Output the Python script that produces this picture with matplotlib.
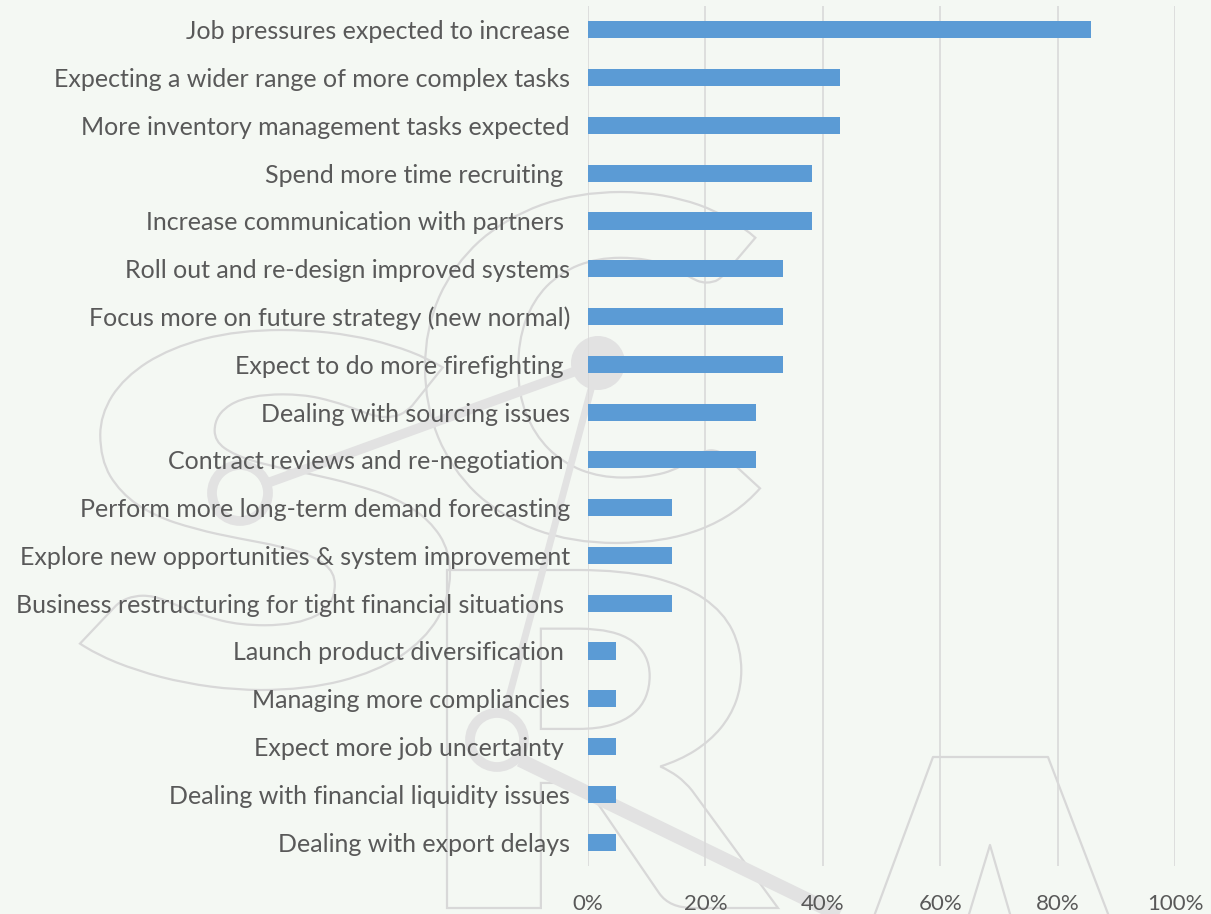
import matplotlib
matplotlib.use("Agg")
import matplotlib.pyplot as plt
from matplotlib.textpath import TextPath
from matplotlib.font_manager import FontProperties
from matplotlib.patches import PathPatch, Circle
from matplotlib.transforms import Affine2D
from matplotlib.ticker import FuncFormatter

# Survey responses: share of respondents (%)
categories = [
    "Job pressures expected to increase",
    "Expecting a wider range of more complex tasks",
    "More inventory management tasks expected",
    "Spend more time recruiting ",
    "Increase communication with partners ",
    "Roll out and re-design improved systems",
    "Focus more on future strategy (new normal)",
    "Expect to do more firefighting ",
    "Dealing with sourcing issues",
    "Contract reviews and re-negotiation ",
    "Perform more long-term demand forecasting",
    "Explore new opportunities & system improvement",
    "Business restructuring for tight financial situations ",
    "Launch product diversification ",
    "Managing more compliancies",
    "Expect more job uncertainty ",
    "Dealing with financial liquidity issues",
    "Dealing with export delays",
]
values = [85.7, 42.9, 42.9, 38.1, 38.1, 33.3, 33.3, 33.3, 28.6, 28.6,
          14.3, 14.3, 14.3, 4.8, 4.8, 4.8, 4.8, 4.8]
x_ticks = [0, 20, 40, 60, 80, 100]

W, H = 1211, 914
BG = "#f4f8f3"
BAR = "#5b9bd5"
TXT = "#595959"
GRID = "#d9d9d9"
MARK = "#d8d8d8"
MARK_FILL = "#e2e2e2"

plt.rcParams["font.family"] = ["Lato", "DejaVu Sans"]

fig = plt.figure(figsize=(W / 100, H / 100), dpi=100, facecolor=BG)

# ---- background logo layer (pixel coordinates, y pointing down) ----
bg = fig.add_axes([0, 0, 1, 1], zorder=0)
bg.set_xlim(0, W)
bg.set_ylim(H, 0)
bg.axis("off")
bg.set_facecolor("none")


def glyph(ch, x0, y0, x1, y1, weight="heavy"):
    fp = FontProperties(family=["Lato", "DejaVu Sans"], weight=weight)
    tp = TextPath((0, 0), ch, size=100, prop=fp)
    ext = tp.get_extents()
    tr = (Affine2D()
          .translate(-ext.x0, -ext.y0)
          .scale((x1 - x0) / ext.width, -(y1 - y0) / ext.height)
          .translate(x0, y1))
    p = tr.transform_path(tp)
    bg.add_patch(PathPatch(p, facecolor="none", edgecolor=MARK, lw=1.6))


glyph("S", 80, 330, 450, 690)
glyph("C", 425, 192, 760, 543)
glyph("R", 447, 570, 778, 908)
# A with a flat top, mostly below the figure edge
bg.plot([843, 933, 1048, 1141], [1000, 757, 757, 1000], color=MARK, lw=1.6)
bg.plot([943, 990, 1035], [1000, 845, 1000], color=MARK, lw=1.6)

# network strokes
bg.plot([262, 598], [485, 363], color=MARK_FILL, lw=7, solid_capstyle="butt")
bg.plot([598, 505], [363, 712], color=MARK_FILL, lw=5, solid_capstyle="butt")
bg.plot([520, 870], [760, 930], color=MARK_FILL, lw=10, solid_capstyle="butt")
bg.add_patch(Circle((598, 363), 27, facecolor=MARK_FILL, edgecolor="none"))
bg.add_patch(Circle((240, 493), 28, facecolor="none", edgecolor=MARK_FILL, lw=7))
bg.add_patch(Circle((497, 740), 27, facecolor="none", edgecolor=MARK_FILL, lw=7))

# ---- bar chart ----
left, right = 588 / W, 1175 / W
top, bottom = 6 / H, 866 / H
ax = fig.add_axes([left, 1 - bottom, right - left, bottom - top], zorder=1)
ax.set_facecolor("none")

ypos = list(range(len(categories)))
ax.barh(ypos, values, height=0.36, color=BAR, zorder=3)
ax.set_ylim(len(categories) - 0.5, -0.5)
ax.set_xlim(0, 100)
ax.set_yticks(ypos)
ax.set_yticklabels(categories)
ax.set_xticks(x_ticks)
ax.xaxis.set_major_formatter(FuncFormatter(lambda v, _: f"{v:.0f}%"))

for s in ax.spines.values():
    s.set_visible(False)
ax.grid(axis="x", color=GRID, lw=1.2, zorder=0)
ax.grid(axis="y", visible=False)
ax.tick_params(axis="both", length=0, labelcolor=TXT)
ax.tick_params(axis="y", pad=13, labelsize=18)
ax.tick_params(axis="x", pad=20, labelsize=16)

fig.savefig("out.png", dpi=100, facecolor=BG)
